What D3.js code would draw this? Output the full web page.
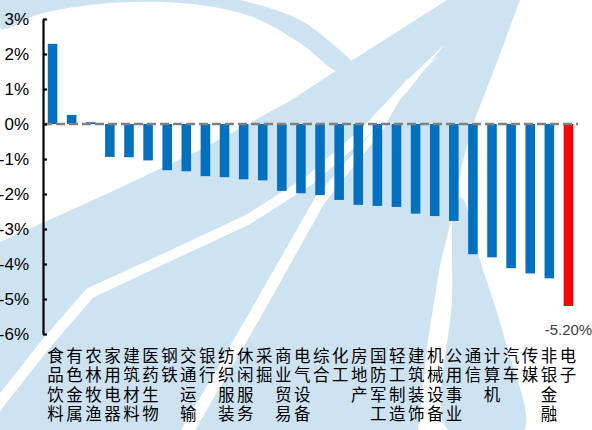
<!DOCTYPE html>
<html><head><meta charset="utf-8">
<script src="https://cdn.jsdelivr.net/npm/d3@7"></script>
<style>html,body{margin:0;padding:0;background:#fff;} svg{display:block;}</style>
</head><body>
<svg id="chart" width="592" height="430"></svg>
<script>
const categories = ["食品饮料","有色金属","农林牧渔","家用电器","建筑材料","医药生物","钢铁","交通运输","银行","纺织服装","休闲服务","采掘","商业贸易","电气设备","综合","化工","房地产","国防军工","轻工制造","建筑装饰","机械设备","公用事业","通信","计算机","汽车","传媒","非银金融","电子"];
const values = [2.29,0.26,0.05,-0.94,-0.95,-1.04,-1.32,-1.35,-1.49,-1.52,-1.58,-1.61,-1.91,-1.98,-2.03,-2.17,-2.31,-2.34,-2.37,-2.56,-2.63,-2.77,-3.72,-3.81,-4.12,-4.27,-4.41,-5.20];
const yTicks = [3,2,1,0,-1,-2,-3,-4,-5,-6];
const highlightCategory = "电子";
const highlightLabel = "-5.20%";

const svg = d3.select("#chart");
const plotL = 43, plotR = 578, plotT = 19, plotB = 334;

// ---- background watermark ----
const bgCol = "#cde3f2";
const bg = svg.append("g");
const lin = d3.line().curve(d3.curveLinearClosed);
const smooth = d3.line().curve(d3.curveCatmullRomClosed.alpha(0.5));
bg.append("path").attr("fill", bgCol).attr("d", lin([
  [0,242],[100,197],[200,150],[290,101],[340,68],[447,0],[520,0],[497,62],[473,124],[462,165],[455,205],
  [440,265],[428,340],[418,430],[0,430]
]));
bg.append("path").attr("fill", bgCol).attr("d", smooth([
  [0,-30],[150,-12],[240,0],[300,20],[330,42],[352,64],[340,72],[300,43],[250,16],[180,3],[100,4],[40,14],[0,28]
]));
bg.append("path").attr("fill", bgCol).attr("d", smooth([
  [456,200],[452,300],[448,430],[523,432],[505,340],[480,260],[462,198]
]));
function taper(pts, ws){
  const L=[], R=[];
  for(let i=0;i<pts.length;i++){
    const a=pts[Math.max(0,i-1)], b=pts[Math.min(pts.length-1,i+1)];
    let dx=b[0]-a[0], dy=b[1]-a[1]; const n=Math.hypot(dx,dy)||1; dx/=n; dy/=n;
    const w=ws[i]/2;
    L.push([pts[i][0]-dy*w, pts[i][1]+dx*w]);
    R.push([pts[i][0]+dy*w, pts[i][1]-dx*w]);
  }
  return L.concat(R.reverse());
}
bg.append("path").attr("fill","#fff").attr("d", lin(taper(
  [[444,45],[405,88],[367,130],[310,180],[247,220],[170,256],[90,293],[45,345],[0,402],[-20,432]],
  [0,8,10,10,10,10,11,11,11,11])));
bg.append("path").attr("fill","#fff").attr("d", lin(taper(
  [[440,55],[407,82],[380,128],[320,200],[255,315],[187,432],[180,445]],
  [0,4,7,11,12,12,12])));

// ---- scales ----
const x = d3.scaleBand().domain(categories).range([plotL, plotR]).paddingInner(0.5).paddingOuter(0.25);
const y = d3.scaleLinear().domain([-6, 3]).range([plotB, plotT]);
const xl = d3.scalePoint().domain(categories).range([55.5, 568]);

// bars
svg.append("g").selectAll("rect").data(categories).join("rect")
  .attr("x", d => x(d))
  .attr("width", x.bandwidth())
  .attr("y", (d,i) => Math.min(y(values[i]), y(0)))
  .attr("height", (d,i) => Math.abs(y(values[i]) - y(0)))
  .attr("fill", d => d === highlightCategory ? "#ff0000" : "#0070c0");

// zero dashed line
svg.append("line").attr("x1", plotL).attr("x2", plotR).attr("y1", y(0)).attr("y2", y(0))
  .attr("stroke", "#808080").attr("stroke-width", 2.5).attr("stroke-dasharray", "9,4");

// y axis
const ax = svg.append("g").attr("transform", `translate(${plotL},0)`)
  .call(d3.axisRight(y).tickValues(yTicks).tickSize(4).tickSizeOuter(0).tickFormat(""));
ax.select(".domain").attr("stroke", "#000").attr("stroke-width", 2.2);
ax.selectAll(".tick line").attr("stroke", "#000").attr("stroke-width", 2.2);

svg.append("g").selectAll("text").data(yTicks).join("text")
  .attr("x", 29).attr("y", d => y(d) + 5.8)
  .attr("text-anchor", "end")
  .attr("font-family", "'Liberation Sans Narrow','Arial Narrow','Liberation Sans',Arial,sans-serif")
  .attr("font-size", 17).attr("fill", "#000")
  .text(d => d + "%");

// category labels: vertical writing, one text per category
svg.append("g").selectAll("text").data(categories).join("text")
  .attr("x", d => xl(d)).attr("y", 347)
  .style("writing-mode", "vertical-rl")
  .style("text-orientation", "upright")
  .style("letter-spacing", "3px")
  .attr("font-family", "'Noto Sans CJK SC','Noto Sans CJK JP',sans-serif")
  .attr("font-size", 16.5).attr("fill", "#000")
  .text(d => d);

// data label
const hi = categories.indexOf(highlightCategory);
svg.append("text")
  .attr("x", x(highlightCategory) + x.bandwidth()/2)
  .attr("y", y(values[hi]) + 29)
  .attr("text-anchor", "middle")
  .attr("font-family", "'Liberation Sans',Arial,sans-serif")
  .attr("font-size", 15).attr("fill", "#404040")
  .text(highlightLabel);
</script>
</body></html>
